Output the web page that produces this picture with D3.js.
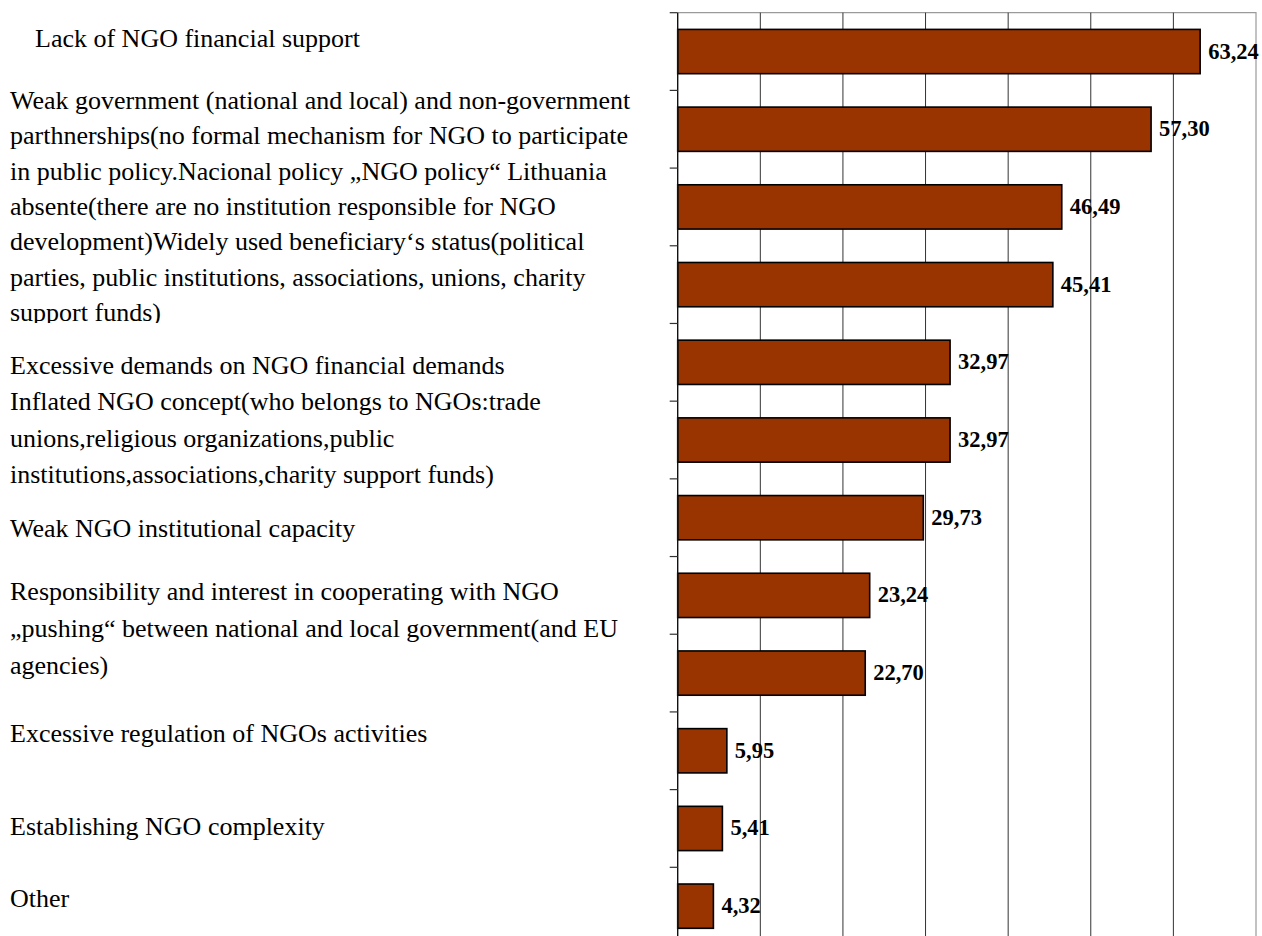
<!DOCTYPE html>
<html>
<head>
<meta charset="utf-8">
<script src="https://cdn.jsdelivr.net/npm/d3@7"></script>
<style>
  html, body { margin: 0; padding: 0; background: #fff; }
  svg { display: block; }
</style>
</head>
<body>
<svg id="chart" width="1262" height="936"></svg>
<script>
// Problems in NGO / government cooperation, share of respondents (%)
const categories = [
  "Lack of NGO financial support",
  "Weak partnerships",
  "No national NGO policy",
  "Widely used beneficiary's status",
  "Excessive financial demands",
  "Inflated NGO concept",
  "Weak institutional capacity",
  "Responsibility and interest in cooperating",
  "Pushing between national and local government",
  "Excessive regulation",
  "Establishing NGO complexity",
  "Other"
];
const values = [63.24, 57.30, 46.49, 45.41, 32.97, 32.97, 29.73, 23.24, 22.70, 5.95, 5.41, 4.32];
const xTicks = [0, 10, 20, 30, 40, 50, 60, 70];

// Text of the descriptive labels on the left
const labelBlocks = [
  ["Lack of NGO financial support"],
  ["Weak government (national and local) and non-government",
   "parthnerships(no formal mechanism for NGO to participate",
   "in public policy.Nacional policy \u201eNGO policy\u201c Lithuania",
   "absente(there are no institution responsible for NGO",
   "development)Widely used beneficiary\u2018s status(political",
   "parties, public institutions, associations, unions, charity",
   "support funds)"],
  ["Excessive demands on NGO financial demands"],
  ["Inflated NGO concept(who belongs to NGOs:trade",
   "unions,religious organizations,public",
   "institutions,associations,charity support funds)"],
  ["Weak NGO institutional capacity"],
  ["Responsibility and interest in cooperating with NGO",
   "\u201epushing\u201c between national and local government(and EU",
   "agencies)"],
  ["Excessive regulation of NGOs activities"],
  ["Establishing NGO complexity"],
  ["Other"]
];

const fmt = v => v.toFixed(2).replace(".", ",");

const svg = d3.select("#chart");

const plot = { left: 677.7, right: 1256, top: 12.7, bottom: 945 };

const x = d3.scaleLinear().domain([0, 70]).range([plot.left, plot.right]);
const yBand = d3.scaleBand().domain(categories).range([plot.top, plot.bottom]).padding(0);
const y = d3.scaleBand().domain(categories).range([plot.top, plot.bottom])
  .paddingInner(0.43).paddingOuter(0.215);

// plot area frame (top and right edges)
svg.append("path")
  .attr("d", `M${plot.left},${plot.top}H${plot.right}V${plot.bottom}`)
  .attr("fill", "none").attr("stroke", "#9a9a9a").attr("stroke-width", 1.2);

// vertical gridlines
svg.append("g").selectAll("line")
  .data(xTicks.filter(t => t > 0 && t < 70))
  .join("line")
  .attr("x1", d => x(d)).attr("x2", d => x(d))
  .attr("y1", plot.top).attr("y2", plot.bottom)
  .attr("stroke", "#333").attr("stroke-width", 1);

// bars
svg.append("g").selectAll("rect")
  .data(values)
  .join("rect")
  .attr("x", x(0))
  .attr("y", (d, i) => y(categories[i]))
  .attr("width", d => x(d) - x(0))
  .attr("height", y.bandwidth())
  .attr("fill", "#993300")
  .attr("stroke", "#000")
  .attr("stroke-width", 1.6);

// category axis with ticks on the band boundaries
svg.append("line")
  .attr("x1", plot.left).attr("x2", plot.left)
  .attr("y1", plot.top).attr("y2", plot.bottom)
  .attr("stroke", "#111").attr("stroke-width", 1.4);
svg.append("g").selectAll("line")
  .data(categories)
  .join("line")
  .attr("x1", plot.left - 8).attr("x2", plot.left)
  .attr("y1", d => yBand(d)).attr("y2", d => yBand(d))
  .attr("stroke", "#333").attr("stroke-width", 1.2);

// value labels
svg.append("g").selectAll("text")
  .data(values)
  .join("text")
  .attr("x", d => x(d) + 8)
  .attr("y", (d, i) => y(categories[i]) + y.bandwidth() / 2 + 7)
  .attr("font-family", "'Liberation Serif', 'Times New Roman', serif")
  .attr("font-weight", "bold")
  .attr("font-size", 22.5)
  .attr("fill", "#000")
  .text(fmt);

// left-hand descriptive text
const blockLayout = [
  { x: 35, y: 47, lh: 34 },
  { x: 10, y: 109, lh: 35.3, clip: 323 },
  { x: 10, y: 374, lh: 36 },
  { x: 10, y: 410, lh: 36.5 },
  { x: 10, y: 537, lh: 36 },
  { x: 10, y: 600, lh: 37 },
  { x: 10, y: 742, lh: 36 },
  { x: 10, y: 835, lh: 36 },
  { x: 10, y: 907, lh: 36 }
];

svg.append("clipPath").attr("id", "blockClip")
  .append("rect").attr("x", 0).attr("y", 80).attr("width", 660).attr("height", 323 - 80);

const labels = svg.append("g")
  .attr("font-family", "'Liberation Serif', 'Times New Roman', serif")
  .attr("font-size", 26)
  .attr("fill", "#000");

labelBlocks.forEach((lines, bi) => {
  const L = blockLayout[bi];
  const t = labels.append("text")
    .attr("x", L.x).attr("y", L.y);
  if (L.clip) t.attr("clip-path", "url(#blockClip)");
  t.selectAll("tspan")
    .data(lines)
    .join("tspan")
    .attr("x", L.x)
    .attr("dy", (d, i) => i === 0 ? 0 : L.lh)
    .text(d => d);
});
</script>
</body>
</html>
